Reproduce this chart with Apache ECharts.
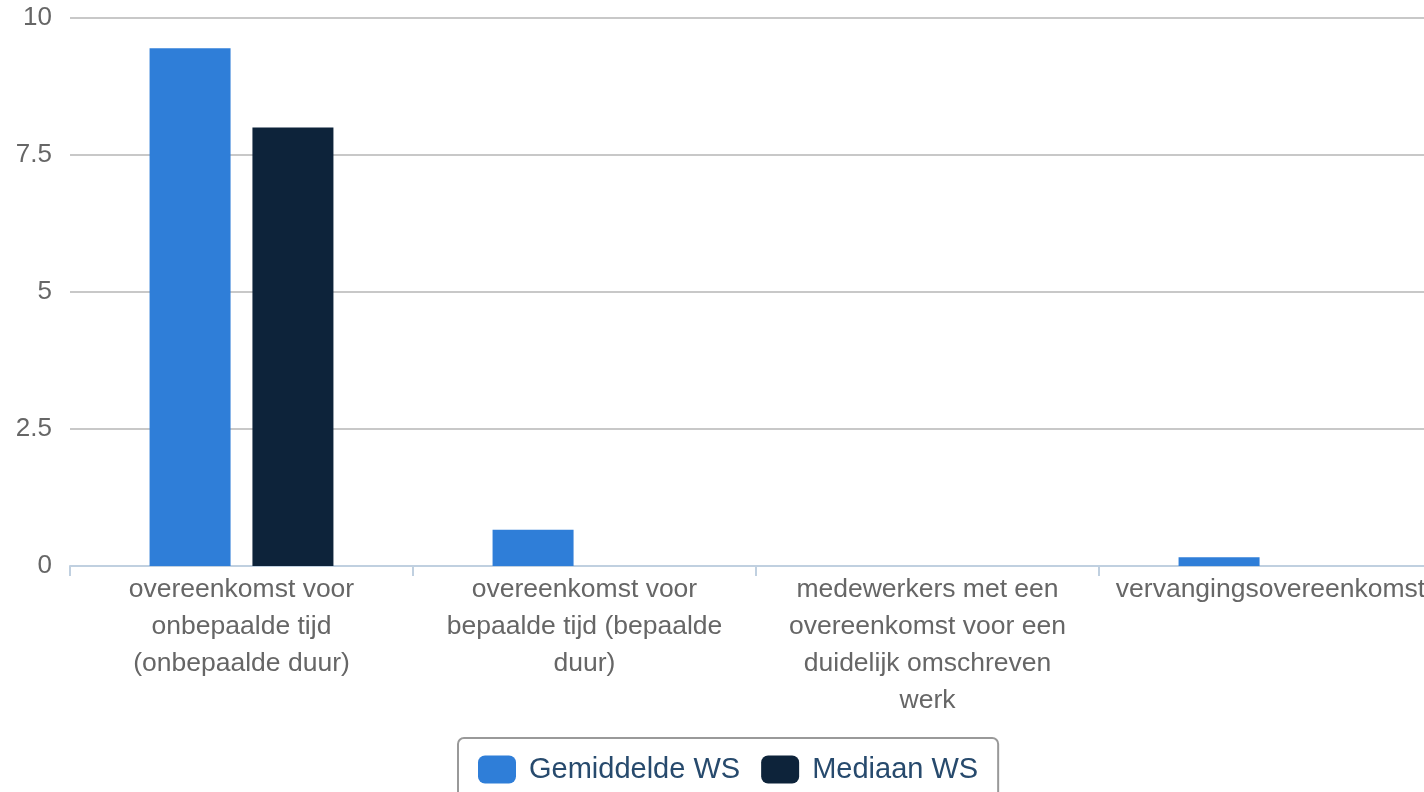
<!DOCTYPE html>
<html>
<head>
<meta charset="utf-8">
<title>Gemiddelde en mediaan WS per type overeenkomst</title>
<script src="https://cdn.jsdelivr.net/npm/echarts@6/dist/echarts.min.js"></script>
<style>
  html, body { margin: 0; padding: 0; background: #ffffff; overflow: hidden; }
  #chart { width: 1424px; height: 792px; }
</style>
</head>
<body>
<div id="chart"></div>
<script>
// Contract types (wrapped as they appear under the axis)
var categories = [
  'overeenkomst voor\nonbepaalde tijd\n(onbepaalde duur)',
  'overeenkomst voor\nbepaalde tijd (bepaalde\nduur)',
  'medewerkers met een\novereenkomst voor een\nduidelijk omschreven\nwerk',
  'vervangingsovereenkomst'
];
var seriesNames = ['Gemiddelde WS', 'Mediaan WS'];
var gemiddeldeWS = [9.45, 0.66, 0, 0.16];
var mediaanWS = [8, 0, 0, 0];
var yTicks = [0, 2.5, 5, 7.5, 10];

var chart = echarts.init(document.getElementById('chart'), null, { renderer: 'canvas' });

var labelFont = 'Liberation Sans, Arial, Helvetica, sans-serif';

chart.setOption({
  animation: false,
  backgroundColor: '#ffffff',
  // plot area runs a little past the right edge of the page
  grid: {
    left: 70, top: 18, width: 1372, height: 548,
    containLabel: false,
    outerBoundsMode: 'none'
  },
  legend: {
    data: seriesNames,
    left: 458,
    top: 738,
    orient: 'horizontal',
    padding: [17, 20, 17, 20],
    itemGap: 21,
    itemWidth: 38,
    itemHeight: 28,
    borderColor: '#999999',
    borderWidth: 2,
    borderRadius: 6,
    icon: 'roundRect',
    textStyle: {
      color: '#274a6d',
      fontSize: 29,
      fontFamily: labelFont,
      padding: [0, 0, 0, 8]
    }
  },
  xAxis: {
    type: 'category',
    data: categories,
    axisLine: { show: true, lineStyle: { color: '#c0d0e0', width: 2 } },
    axisTick: { show: true, length: 10, lineStyle: { color: '#c0d0e0', width: 2 } },
    axisLabel: {
      color: '#666666',
      fontSize: 26.5,
      fontFamily: labelFont,
      lineHeight: 37,
      margin: 5,
      interval: 0,
      align: 'center'
    }
  },
  yAxis: {
    type: 'value',
    min: yTicks[0],
    max: yTicks[yTicks.length - 1],
    interval: 2.5,
    axisLine: { show: false },
    axisTick: { show: false },
    axisLabel: {
      color: '#666666',
      fontSize: 26,
      fontFamily: labelFont,
      margin: 18,
      padding: [7, 0, 0, 0]
    },
    splitLine: { show: true, lineStyle: { color: '#c8c8c8', width: 2 } }
  },
  series: [
    {
      name: seriesNames[0],
      type: 'bar',
      data: gemiddeldeWS,
      barWidth: 81,
      barGap: '27%',
      itemStyle: { color: '#2f7ed8' }
    },
    {
      name: seriesNames[1],
      type: 'bar',
      data: mediaanWS,
      barWidth: 81,
      itemStyle: { color: '#0d233a' }
    }
  ]
});
</script>
</body>
</html>
